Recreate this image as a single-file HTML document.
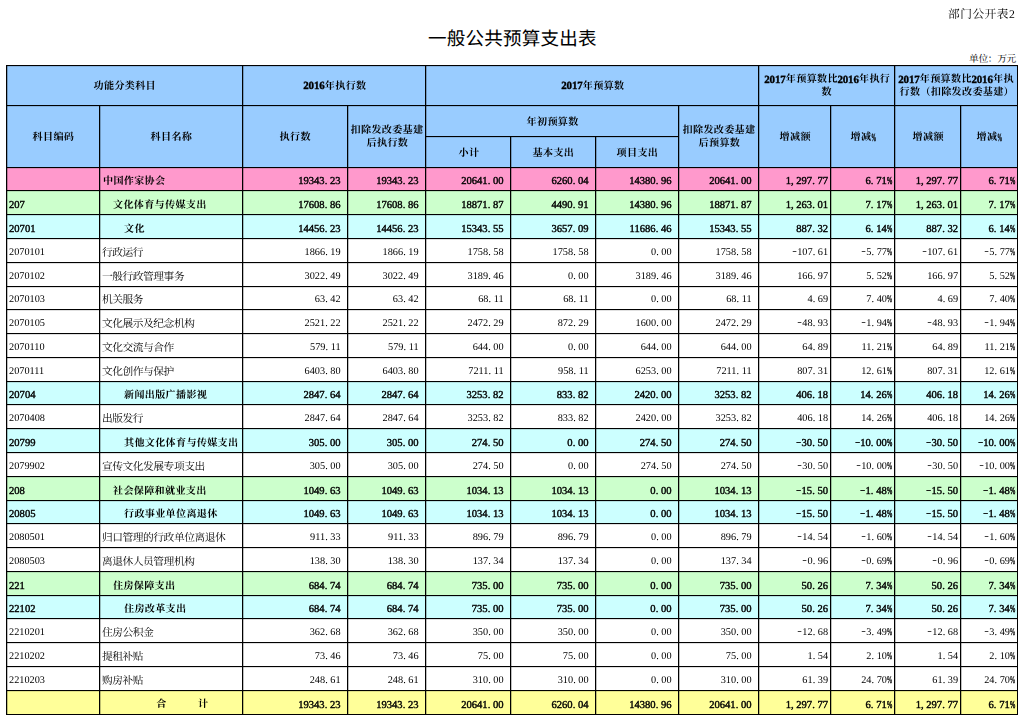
<!DOCTYPE html>
<html lang="zh-CN"><head><meta charset="utf-8"><title>一般公共预算支出表</title>
<style>
html,body{margin:0;padding:0;background:#fff}
body{text-rendering:geometricPrecision;width:1024px;height:721px;position:relative;overflow:hidden;font-family:"Liberation Serif","Noto Serif CJK SC",serif;color:#000}
svg text{font-family:"Liberation Serif","Noto Serif CJK SC",serif;font-size:1000px}
svg.fb text{font-size:1020px;stroke:#000;stroke-width:34}
svg.fb text.cj{font-size:940px;font-weight:bold;stroke:none;stroke-width:0;letter-spacing:60px}
svg text.sans{font-family:"Liberation Sans","Noto Sans CJK SC",sans-serif}
svg.L,svg.T{display:inline-block;vertical-align:top;overflow:visible;fill:#000}
#title{position:absolute;left:0;width:1024px;top:27.7px;text-align:center;line-height:0}
#tag{will-change:transform;position:absolute;right:9px;top:8px;line-height:0}
#unit{position:absolute;right:8px;top:54px;line-height:0}
table{will-change:transform;position:absolute;left:6px;top:65px;border-collapse:separate;border-spacing:0;table-layout:fixed;width:1012px;border-left:1px solid #000;border-top:1px solid #000}
th,td{box-shadow:inset 1px 0 rgba(0,0,0,.25),inset 0 1px rgba(0,0,0,.12);box-sizing:border-box;border-right:1px solid #000;border-bottom:1px solid #000;padding:0;margin:0;overflow:hidden;white-space:nowrap}
th{background:#9cf;text-align:center;vertical-align:middle;line-height:0}
th .ln{display:block;height:13px;line-height:0}
td{font-size:10.27px;line-height:12px;vertical-align:bottom;padding-bottom:2px;text-align:right}
tr.B td{font-weight:normal;-webkit-text-stroke:.4px #000;font-size:10.60px}
td.k{text-align:left;padding-left:2px}
td.n{text-align:left;padding-left:2px;line-height:0;padding-bottom:5px}
td.c{text-align:center;line-height:0;padding-bottom:6px;padding-left:22px}
td.a{padding-right:6.5px}
td.z{padding-right:2px}
tr.pink td{background:#f9c}
tr.grn td{background:#cfc}
tr.cyan td{background:#cff}
tr.yel td{background:#ff9}
tr.w td{background:#fff;padding-bottom:3px}
tr.w td.n{padding-bottom:6px}
i{font-style:normal;display:inline-block;width:.5em;text-align:left}
i.m{text-align:center;transform:scaleX(1.35) translateY(-.6px)}
i.p u{text-decoration:none;display:inline-block;transform:scaleX(.6);transform-origin:0 50%;-webkit-text-stroke:.5px #000}
tr.w i.p u{transform:scaleX(.6);-webkit-text-stroke:.3px #000}
</style></head>
<body>
<div id="tag"><svg class="T fr" width="67.10" height="12.20" viewBox="0 -823 5500 1000" preserveAspectRatio="none" role="img" aria-label="部门公开表2"><title>部门公开表2</title><text x="0" y="0">部门公开表</text><text x="5000" y="0" textLength="500" lengthAdjust="spacing">2</text></svg></div>
<div id="title"><svg class="T fr" width="168.75" height="18.75" viewBox="0 -880 9000 1000" preserveAspectRatio="none" role="img" aria-label="一般公共预算支出表"><title>一般公共预算支出表</title><text class="sans" x="0" y="0">一般公共预算支出表</text></svg></div>
<div id="unit"><svg class="T fr" width="47.00" height="9.40" viewBox="0 -891 5000 1000" preserveAspectRatio="none" role="img" aria-label="单位：万元"><title>单位：万元</title><text x="0" y="0">单位：万元</text></svg></div>
<table><colgroup><col style="width:93px"><col style="width:143px"><col style="width:105px"><col style="width:78px"><col style="width:85px"><col style="width:85px"><col style="width:83px"><col style="width:80px"><col style="width:72px"><col style="width:64px"><col style="width:66px"><col style="width:57px"></colgroup>
<thead>
<tr style="height:40px"><th colspan="2"><svg class="L fb" width="62.40" height="10.40" viewBox="-29 -880 6000 1000" preserveAspectRatio="none" role="img" aria-label="功能分类科目"><title>功能分类科目</title><text class="cj" x="30" y="-23">功能分类科目</text></svg></th><th colspan="2"><svg class="L fb" width="62.82" height="10.40" viewBox="-29 -880 6040 1000" preserveAspectRatio="none" role="img" aria-label="2016年执行数"><title>2016年执行数</title><text x="0" y="0" textLength="2040" lengthAdjust="spacing">2016</text><text class="cj" x="2070" y="-23">年执行数</text></svg></th><th colspan="4"><svg class="L fb" width="62.82" height="10.40" viewBox="-29 -880 6040 1000" preserveAspectRatio="none" role="img" aria-label="2017年预算数"><title>2017年预算数</title><text x="0" y="0" textLength="2040" lengthAdjust="spacing">2017</text><text class="cj" x="2070" y="-23">年预算数</text></svg></th><th colspan="2"><span class="ln"><svg class="L fb" width="125.63" height="10.40" viewBox="-29 -928 12080 1000" preserveAspectRatio="none" role="img" aria-label="2017年预算数比2016年执行"><title>2017年预算数比2016年执行</title><text x="0" y="0" textLength="2040" lengthAdjust="spacing">2017</text><text class="cj" x="2070" y="-23">年预算数比</text><text x="7040" y="0" textLength="2040" lengthAdjust="spacing">2016</text><text class="cj" x="9110" y="-23">年执行</text></svg></span><span class="ln"><svg class="L fb" width="10.40" height="10.40" viewBox="-29 -928 1000 1000" preserveAspectRatio="none" role="img" aria-label="数"><title>数</title><text class="cj" x="30" y="-23">数</text></svg></span></th><th colspan="2"><span class="ln"><svg class="L fb" width="115.23" height="10.40" viewBox="-29 -928 11080 1000" preserveAspectRatio="none" role="img" aria-label="2017年预算数比2016年执"><title>2017年预算数比2016年执</title><text x="0" y="0" textLength="2040" lengthAdjust="spacing">2017</text><text class="cj" x="2070" y="-23">年预算数比</text><text x="7040" y="0" textLength="2040" lengthAdjust="spacing">2016</text><text class="cj" x="9110" y="-23">年执</text></svg></span><span class="ln"><svg class="L fb" width="114.40" height="10.40" viewBox="-29 -928 11000 1000" preserveAspectRatio="none" role="img" aria-label="行数（扣除发改委基建）"><title>行数（扣除发改委基建）</title><text class="cj" x="30" y="-23">行数（扣除发改委基建）</text></svg></span></th></tr>
<tr style="height:31px"><th rowspan="2"><svg class="L fb" width="41.60" height="10.40" viewBox="-29 -928 4000 1000" preserveAspectRatio="none" role="img" aria-label="科目编码"><title>科目编码</title><text class="cj" x="30" y="-23">科目编码</text></svg></th><th rowspan="2"><svg class="L fb" width="41.60" height="10.40" viewBox="-29 -928 4000 1000" preserveAspectRatio="none" role="img" aria-label="科目名称"><title>科目名称</title><text class="cj" x="30" y="-23">科目名称</text></svg></th><th rowspan="2"><svg class="L fb" width="31.20" height="10.40" viewBox="-29 -928 3000 1000" preserveAspectRatio="none" role="img" aria-label="执行数"><title>执行数</title><text class="cj" x="30" y="-23">执行数</text></svg></th><th rowspan="2"><span class="ln"><svg class="L fb" width="72.80" height="10.40" viewBox="-29 -928 7000 1000" preserveAspectRatio="none" role="img" aria-label="扣除发改委基建"><title>扣除发改委基建</title><text class="cj" x="30" y="-23">扣除发改委基建</text></svg></span><span class="ln"><svg class="L fb" width="41.60" height="10.40" viewBox="-29 -928 4000 1000" preserveAspectRatio="none" role="img" aria-label="后执行数"><title>后执行数</title><text class="cj" x="30" y="-23">后执行数</text></svg></span></th><th colspan="3"><svg class="L fb" width="52.00" height="10.40" viewBox="-29 -928 5000 1000" preserveAspectRatio="none" role="img" aria-label="年初预算数"><title>年初预算数</title><text class="cj" x="30" y="-23">年初预算数</text></svg></th><th rowspan="2"><span class="ln"><svg class="L fb" width="72.80" height="10.40" viewBox="-29 -928 7000 1000" preserveAspectRatio="none" role="img" aria-label="扣除发改委基建"><title>扣除发改委基建</title><text class="cj" x="30" y="-23">扣除发改委基建</text></svg></span><span class="ln"><svg class="L fb" width="41.60" height="10.40" viewBox="-29 -928 4000 1000" preserveAspectRatio="none" role="img" aria-label="后预算数"><title>后预算数</title><text class="cj" x="30" y="-23">后预算数</text></svg></span></th><th rowspan="2"><svg class="L fb" width="31.20" height="10.40" viewBox="-29 -928 3000 1000" preserveAspectRatio="none" role="img" aria-label="增减额"><title>增减额</title><text class="cj" x="30" y="-23">增减额</text></svg></th><th rowspan="2"><svg class="L fb" width="26.00" height="10.40" viewBox="-29 -928 2500 1000" preserveAspectRatio="none" role="img" aria-label="增减%"><title>增减%</title><text class="cj" x="30" y="-23">增减</text><text x="2020" y="0" textLength="460" lengthAdjust="spacingAndGlyphs">%</text></svg></th><th rowspan="2"><svg class="L fb" width="31.20" height="10.40" viewBox="-29 -928 3000 1000" preserveAspectRatio="none" role="img" aria-label="增减额"><title>增减额</title><text class="cj" x="30" y="-23">增减额</text></svg></th><th rowspan="2"><svg class="L fb" width="26.00" height="10.40" viewBox="-29 -928 2500 1000" preserveAspectRatio="none" role="img" aria-label="增减%"><title>增减%</title><text class="cj" x="30" y="-23">增减</text><text x="2020" y="0" textLength="460" lengthAdjust="spacingAndGlyphs">%</text></svg></th></tr>
<tr style="height:31px"><th><svg class="L fb" width="20.80" height="10.40" viewBox="-29 -928 2000 1000" preserveAspectRatio="none" role="img" aria-label="小计"><title>小计</title><text class="cj" x="30" y="-23">小计</text></svg></th><th><svg class="L fb" width="41.60" height="10.40" viewBox="-29 -928 4000 1000" preserveAspectRatio="none" role="img" aria-label="基本支出"><title>基本支出</title><text class="cj" x="30" y="-23">基本支出</text></svg></th><th><svg class="L fb" width="41.60" height="10.40" viewBox="-29 -928 4000 1000" preserveAspectRatio="none" role="img" aria-label="项目支出"><title>项目支出</title><text class="cj" x="30" y="-23">项目支出</text></svg></th></tr>
</thead>
<tbody>
<tr class="pink B" style="height:23px"><td class="k"></td><td class="n"><svg class="L fb" width="62.40" height="10.40" viewBox="-67 -880 6000 1000" preserveAspectRatio="none" role="img" aria-label="中国作家协会"><title>中国作家协会</title><text class="cj" x="30" y="-23">中国作家协会</text></svg></td><td class="a">19343<i>.</i>23</td><td class="a">19343<i>.</i>23</td><td class="a">20641<i>.</i>00</td><td class="a">6260<i>.</i>04</td><td class="a">14380<i>.</i>96</td><td class="a">20641<i>.</i>00</td><td class="z">1<i>,</i>297<i>.</i>77</td><td class="z">6<i>.</i>71<i class="p"><u>%</u></i></td><td class="z">1<i>,</i>297<i>.</i>77</td><td class="z">6<i>.</i>71<i class="p"><u>%</u></i></td></tr>
<tr class="grn B" style="height:24px"><td class="k">207</td><td class="n" style="padding-left:12.4px"><svg class="L fb" width="93.60" height="10.40" viewBox="-67 -880 9000 1000" preserveAspectRatio="none" role="img" aria-label="文化体育与传媒支出"><title>文化体育与传媒支出</title><text class="cj" x="30" y="-23">文化体育与传媒支出</text></svg></td><td class="a">17608<i>.</i>86</td><td class="a">17608<i>.</i>86</td><td class="a">18871<i>.</i>87</td><td class="a">4490<i>.</i>91</td><td class="a">14380<i>.</i>96</td><td class="a">18871<i>.</i>87</td><td class="z">1<i>,</i>263<i>.</i>01</td><td class="z">7<i>.</i>17<i class="p"><u>%</u></i></td><td class="z">1<i>,</i>263<i>.</i>01</td><td class="z">7<i>.</i>17<i class="p"><u>%</u></i></td></tr>
<tr class="cyan B" style="height:24px"><td class="k">20701</td><td class="n" style="padding-left:22.8px"><svg class="L fb" width="20.80" height="10.40" viewBox="-67 -880 2000 1000" preserveAspectRatio="none" role="img" aria-label="文化"><title>文化</title><text class="cj" x="30" y="-23">文化</text></svg></td><td class="a">14456<i>.</i>23</td><td class="a">14456<i>.</i>23</td><td class="a">15343<i>.</i>55</td><td class="a">3657<i>.</i>09</td><td class="a">11686<i>.</i>46</td><td class="a">15343<i>.</i>55</td><td class="z">887<i>.</i>32</td><td class="z">6<i>.</i>14<i class="p"><u>%</u></i></td><td class="z">887<i>.</i>32</td><td class="z">6<i>.</i>14<i class="p"><u>%</u></i></td></tr>
<tr class="w" style="height:24px"><td class="k">2070101</td><td class="n"><svg class="L fr" width="41.08" height="10.27" viewBox="0 -948 4000 1000" preserveAspectRatio="none" role="img" aria-label="行政运行"><title>行政运行</title><text x="0" y="0">行政运行</text></svg></td><td class="a">1866<i>.</i>19</td><td class="a">1866<i>.</i>19</td><td class="a">1758<i>.</i>58</td><td class="a">1758<i>.</i>58</td><td class="a">0<i>.</i>00</td><td class="a">1758<i>.</i>58</td><td class="z"><i class="m">-</i>107<i>.</i>61</td><td class="z"><i class="m">-</i>5<i>.</i>77<i class="p"><u>%</u></i></td><td class="z"><i class="m">-</i>107<i>.</i>61</td><td class="z"><i class="m">-</i>5<i>.</i>77<i class="p"><u>%</u></i></td></tr>
<tr class="w" style="height:24px"><td class="k">2070102</td><td class="n"><svg class="L fr" width="82.16" height="10.27" viewBox="0 -948 8000 1000" preserveAspectRatio="none" role="img" aria-label="一般行政管理事务"><title>一般行政管理事务</title><text x="0" y="0">一般行政管理事务</text></svg></td><td class="a">3022<i>.</i>49</td><td class="a">3022<i>.</i>49</td><td class="a">3189<i>.</i>46</td><td class="a">0<i>.</i>00</td><td class="a">3189<i>.</i>46</td><td class="a">3189<i>.</i>46</td><td class="z">166<i>.</i>97</td><td class="z">5<i>.</i>52<i class="p"><u>%</u></i></td><td class="z">166<i>.</i>97</td><td class="z">5<i>.</i>52<i class="p"><u>%</u></i></td></tr>
<tr class="w" style="height:23px"><td class="k">2070103</td><td class="n"><svg class="L fr" width="41.08" height="10.27" viewBox="0 -948 4000 1000" preserveAspectRatio="none" role="img" aria-label="机关服务"><title>机关服务</title><text x="0" y="0">机关服务</text></svg></td><td class="a">63<i>.</i>42</td><td class="a">63<i>.</i>42</td><td class="a">68<i>.</i>11</td><td class="a">68<i>.</i>11</td><td class="a">0<i>.</i>00</td><td class="a">68<i>.</i>11</td><td class="z">4<i>.</i>69</td><td class="z">7<i>.</i>40<i class="p"><u>%</u></i></td><td class="z">4<i>.</i>69</td><td class="z">7<i>.</i>40<i class="p"><u>%</u></i></td></tr>
<tr class="w" style="height:24px"><td class="k">2070105</td><td class="n"><svg class="L fr" width="92.43" height="10.27" viewBox="0 -948 9000 1000" preserveAspectRatio="none" role="img" aria-label="文化展示及纪念机构"><title>文化展示及纪念机构</title><text x="0" y="0">文化展示及纪念机构</text></svg></td><td class="a">2521<i>.</i>22</td><td class="a">2521<i>.</i>22</td><td class="a">2472<i>.</i>29</td><td class="a">872<i>.</i>29</td><td class="a">1600<i>.</i>00</td><td class="a">2472<i>.</i>29</td><td class="z"><i class="m">-</i>48<i>.</i>93</td><td class="z"><i class="m">-</i>1<i>.</i>94<i class="p"><u>%</u></i></td><td class="z"><i class="m">-</i>48<i>.</i>93</td><td class="z"><i class="m">-</i>1<i>.</i>94<i class="p"><u>%</u></i></td></tr>
<tr class="w" style="height:24px"><td class="k">2070110</td><td class="n"><svg class="L fr" width="71.89" height="10.27" viewBox="0 -948 7000 1000" preserveAspectRatio="none" role="img" aria-label="文化交流与合作"><title>文化交流与合作</title><text x="0" y="0">文化交流与合作</text></svg></td><td class="a">579<i>.</i>11</td><td class="a">579<i>.</i>11</td><td class="a">644<i>.</i>00</td><td class="a">0<i>.</i>00</td><td class="a">644<i>.</i>00</td><td class="a">644<i>.</i>00</td><td class="z">64<i>.</i>89</td><td class="z">11<i>.</i>21<i class="p"><u>%</u></i></td><td class="z">64<i>.</i>89</td><td class="z">11<i>.</i>21<i class="p"><u>%</u></i></td></tr>
<tr class="w" style="height:24px"><td class="k">2070111</td><td class="n"><svg class="L fr" width="71.89" height="10.27" viewBox="0 -948 7000 1000" preserveAspectRatio="none" role="img" aria-label="文化创作与保护"><title>文化创作与保护</title><text x="0" y="0">文化创作与保护</text></svg></td><td class="a">6403<i>.</i>80</td><td class="a">6403<i>.</i>80</td><td class="a">7211<i>.</i>11</td><td class="a">958<i>.</i>11</td><td class="a">6253<i>.</i>00</td><td class="a">7211<i>.</i>11</td><td class="z">807<i>.</i>31</td><td class="z">12<i>.</i>61<i class="p"><u>%</u></i></td><td class="z">807<i>.</i>31</td><td class="z">12<i>.</i>61<i class="p"><u>%</u></i></td></tr>
<tr class="cyan B" style="height:23px"><td class="k">20704</td><td class="n" style="padding-left:22.8px"><svg class="L fb" width="83.20" height="10.40" viewBox="-67 -880 8000 1000" preserveAspectRatio="none" role="img" aria-label="新闻出版广播影视"><title>新闻出版广播影视</title><text class="cj" x="30" y="-23">新闻出版广播影视</text></svg></td><td class="a">2847<i>.</i>64</td><td class="a">2847<i>.</i>64</td><td class="a">3253<i>.</i>82</td><td class="a">833<i>.</i>82</td><td class="a">2420<i>.</i>00</td><td class="a">3253<i>.</i>82</td><td class="z">406<i>.</i>18</td><td class="z">14<i>.</i>26<i class="p"><u>%</u></i></td><td class="z">406<i>.</i>18</td><td class="z">14<i>.</i>26<i class="p"><u>%</u></i></td></tr>
<tr class="w" style="height:24px"><td class="k">2070408</td><td class="n"><svg class="L fr" width="41.08" height="10.27" viewBox="0 -948 4000 1000" preserveAspectRatio="none" role="img" aria-label="出版发行"><title>出版发行</title><text x="0" y="0">出版发行</text></svg></td><td class="a">2847<i>.</i>64</td><td class="a">2847<i>.</i>64</td><td class="a">3253<i>.</i>82</td><td class="a">833<i>.</i>82</td><td class="a">2420<i>.</i>00</td><td class="a">3253<i>.</i>82</td><td class="z">406<i>.</i>18</td><td class="z">14<i>.</i>26<i class="p"><u>%</u></i></td><td class="z">406<i>.</i>18</td><td class="z">14<i>.</i>26<i class="p"><u>%</u></i></td></tr>
<tr class="cyan B" style="height:24px"><td class="k">20799</td><td class="n" style="padding-left:22.8px"><svg class="L fb" width="114.40" height="10.40" viewBox="-67 -880 11000 1000" preserveAspectRatio="none" role="img" aria-label="其他文化体育与传媒支出"><title>其他文化体育与传媒支出</title><text class="cj" x="30" y="-23">其他文化体育与传媒支出</text></svg></td><td class="a">305<i>.</i>00</td><td class="a">305<i>.</i>00</td><td class="a">274<i>.</i>50</td><td class="a">0<i>.</i>00</td><td class="a">274<i>.</i>50</td><td class="a">274<i>.</i>50</td><td class="z"><i class="m">-</i>30<i>.</i>50</td><td class="z"><i class="m">-</i>10<i>.</i>00<i class="p"><u>%</u></i></td><td class="z"><i class="m">-</i>30<i>.</i>50</td><td class="z"><i class="m">-</i>10<i>.</i>00<i class="p"><u>%</u></i></td></tr>
<tr class="w" style="height:24px"><td class="k">2079902</td><td class="n"><svg class="L fr" width="102.70" height="10.27" viewBox="0 -948 10000 1000" preserveAspectRatio="none" role="img" aria-label="宣传文化发展专项支出"><title>宣传文化发展专项支出</title><text x="0" y="0">宣传文化发展专项支出</text></svg></td><td class="a">305<i>.</i>00</td><td class="a">305<i>.</i>00</td><td class="a">274<i>.</i>50</td><td class="a">0<i>.</i>00</td><td class="a">274<i>.</i>50</td><td class="a">274<i>.</i>50</td><td class="z"><i class="m">-</i>30<i>.</i>50</td><td class="z"><i class="m">-</i>10<i>.</i>00<i class="p"><u>%</u></i></td><td class="z"><i class="m">-</i>30<i>.</i>50</td><td class="z"><i class="m">-</i>10<i>.</i>00<i class="p"><u>%</u></i></td></tr>
<tr class="grn B" style="height:24px"><td class="k">208</td><td class="n" style="padding-left:12.4px"><svg class="L fb" width="93.60" height="10.40" viewBox="-67 -880 9000 1000" preserveAspectRatio="none" role="img" aria-label="社会保障和就业支出"><title>社会保障和就业支出</title><text class="cj" x="30" y="-23">社会保障和就业支出</text></svg></td><td class="a">1049<i>.</i>63</td><td class="a">1049<i>.</i>63</td><td class="a">1034<i>.</i>13</td><td class="a">1034<i>.</i>13</td><td class="a">0<i>.</i>00</td><td class="a">1034<i>.</i>13</td><td class="z"><i class="m">-</i>15<i>.</i>50</td><td class="z"><i class="m">-</i>1<i>.</i>48<i class="p"><u>%</u></i></td><td class="z"><i class="m">-</i>15<i>.</i>50</td><td class="z"><i class="m">-</i>1<i>.</i>48<i class="p"><u>%</u></i></td></tr>
<tr class="cyan B" style="height:23px"><td class="k">20805</td><td class="n" style="padding-left:22.8px"><svg class="L fb" width="93.60" height="10.40" viewBox="-67 -880 9000 1000" preserveAspectRatio="none" role="img" aria-label="行政事业单位离退休"><title>行政事业单位离退休</title><text class="cj" x="30" y="-23">行政事业单位离退休</text></svg></td><td class="a">1049<i>.</i>63</td><td class="a">1049<i>.</i>63</td><td class="a">1034<i>.</i>13</td><td class="a">1034<i>.</i>13</td><td class="a">0<i>.</i>00</td><td class="a">1034<i>.</i>13</td><td class="z"><i class="m">-</i>15<i>.</i>50</td><td class="z"><i class="m">-</i>1<i>.</i>48<i class="p"><u>%</u></i></td><td class="z"><i class="m">-</i>15<i>.</i>50</td><td class="z"><i class="m">-</i>1<i>.</i>48<i class="p"><u>%</u></i></td></tr>
<tr class="w" style="height:24px"><td class="k">2080501</td><td class="n"><svg class="L fr" width="123.24" height="10.27" viewBox="0 -948 12000 1000" preserveAspectRatio="none" role="img" aria-label="归口管理的行政单位离退休"><title>归口管理的行政单位离退休</title><text x="0" y="0">归口管理的行政单位离退休</text></svg></td><td class="a">911<i>.</i>33</td><td class="a">911<i>.</i>33</td><td class="a">896<i>.</i>79</td><td class="a">896<i>.</i>79</td><td class="a">0<i>.</i>00</td><td class="a">896<i>.</i>79</td><td class="z"><i class="m">-</i>14<i>.</i>54</td><td class="z"><i class="m">-</i>1<i>.</i>60<i class="p"><u>%</u></i></td><td class="z"><i class="m">-</i>14<i>.</i>54</td><td class="z"><i class="m">-</i>1<i>.</i>60<i class="p"><u>%</u></i></td></tr>
<tr class="w" style="height:24px"><td class="k">2080503</td><td class="n"><svg class="L fr" width="92.43" height="10.27" viewBox="0 -948 9000 1000" preserveAspectRatio="none" role="img" aria-label="离退休人员管理机构"><title>离退休人员管理机构</title><text x="0" y="0">离退休人员管理机构</text></svg></td><td class="a">138<i>.</i>30</td><td class="a">138<i>.</i>30</td><td class="a">137<i>.</i>34</td><td class="a">137<i>.</i>34</td><td class="a">0<i>.</i>00</td><td class="a">137<i>.</i>34</td><td class="z"><i class="m">-</i>0<i>.</i>96</td><td class="z"><i class="m">-</i>0<i>.</i>69<i class="p"><u>%</u></i></td><td class="z"><i class="m">-</i>0<i>.</i>96</td><td class="z"><i class="m">-</i>0<i>.</i>69<i class="p"><u>%</u></i></td></tr>
<tr class="grn B" style="height:24px"><td class="k">221</td><td class="n" style="padding-left:12.4px"><svg class="L fb" width="62.40" height="10.40" viewBox="-67 -880 6000 1000" preserveAspectRatio="none" role="img" aria-label="住房保障支出"><title>住房保障支出</title><text class="cj" x="30" y="-23">住房保障支出</text></svg></td><td class="a">684<i>.</i>74</td><td class="a">684<i>.</i>74</td><td class="a">735<i>.</i>00</td><td class="a">735<i>.</i>00</td><td class="a">0<i>.</i>00</td><td class="a">735<i>.</i>00</td><td class="z">50<i>.</i>26</td><td class="z">7<i>.</i>34<i class="p"><u>%</u></i></td><td class="z">50<i>.</i>26</td><td class="z">7<i>.</i>34<i class="p"><u>%</u></i></td></tr>
<tr class="cyan B" style="height:23px"><td class="k">22102</td><td class="n" style="padding-left:22.8px"><svg class="L fb" width="62.40" height="10.40" viewBox="-67 -880 6000 1000" preserveAspectRatio="none" role="img" aria-label="住房改革支出"><title>住房改革支出</title><text class="cj" x="30" y="-23">住房改革支出</text></svg></td><td class="a">684<i>.</i>74</td><td class="a">684<i>.</i>74</td><td class="a">735<i>.</i>00</td><td class="a">735<i>.</i>00</td><td class="a">0<i>.</i>00</td><td class="a">735<i>.</i>00</td><td class="z">50<i>.</i>26</td><td class="z">7<i>.</i>34<i class="p"><u>%</u></i></td><td class="z">50<i>.</i>26</td><td class="z">7<i>.</i>34<i class="p"><u>%</u></i></td></tr>
<tr class="w" style="height:24px"><td class="k">2210201</td><td class="n"><svg class="L fr" width="51.35" height="10.27" viewBox="0 -948 5000 1000" preserveAspectRatio="none" role="img" aria-label="住房公积金"><title>住房公积金</title><text x="0" y="0">住房公积金</text></svg></td><td class="a">362<i>.</i>68</td><td class="a">362<i>.</i>68</td><td class="a">350<i>.</i>00</td><td class="a">350<i>.</i>00</td><td class="a">0<i>.</i>00</td><td class="a">350<i>.</i>00</td><td class="z"><i class="m">-</i>12<i>.</i>68</td><td class="z"><i class="m">-</i>3<i>.</i>49<i class="p"><u>%</u></i></td><td class="z"><i class="m">-</i>12<i>.</i>68</td><td class="z"><i class="m">-</i>3<i>.</i>49<i class="p"><u>%</u></i></td></tr>
<tr class="w" style="height:24px"><td class="k">2210202</td><td class="n"><svg class="L fr" width="41.08" height="10.27" viewBox="0 -948 4000 1000" preserveAspectRatio="none" role="img" aria-label="提租补贴"><title>提租补贴</title><text x="0" y="0">提租补贴</text></svg></td><td class="a">73<i>.</i>46</td><td class="a">73<i>.</i>46</td><td class="a">75<i>.</i>00</td><td class="a">75<i>.</i>00</td><td class="a">0<i>.</i>00</td><td class="a">75<i>.</i>00</td><td class="z">1<i>.</i>54</td><td class="z">2<i>.</i>10<i class="p"><u>%</u></i></td><td class="z">1<i>.</i>54</td><td class="z">2<i>.</i>10<i class="p"><u>%</u></i></td></tr>
<tr class="w" style="height:24px"><td class="k">2210203</td><td class="n"><svg class="L fr" width="41.08" height="10.27" viewBox="0 -948 4000 1000" preserveAspectRatio="none" role="img" aria-label="购房补贴"><title>购房补贴</title><text x="0" y="0">购房补贴</text></svg></td><td class="a">248<i>.</i>61</td><td class="a">248<i>.</i>61</td><td class="a">310<i>.</i>00</td><td class="a">310<i>.</i>00</td><td class="a">0<i>.</i>00</td><td class="a">310<i>.</i>00</td><td class="z">61<i>.</i>39</td><td class="z">24<i>.</i>70<i class="p"><u>%</u></i></td><td class="z">61<i>.</i>39</td><td class="z">24<i>.</i>70<i class="p"><u>%</u></i></td></tr>
<tr class="yel B" style="height:24px"><td class="k"></td><td class="c"><svg class="L fb" width="52.00" height="10.40" viewBox="0 -909 5000 1000" preserveAspectRatio="none" role="img" aria-label="合　　　计"><title>合　　　计</title><text class="cj" x="30" y="-23">合</text><text class="cj" x="4030" y="-23">计</text></svg></td><td class="a">19343<i>.</i>23</td><td class="a">19343<i>.</i>23</td><td class="a">20641<i>.</i>00</td><td class="a">6260<i>.</i>04</td><td class="a">14380<i>.</i>96</td><td class="a">20641<i>.</i>00</td><td class="z">1<i>,</i>297<i>.</i>77</td><td class="z">6<i>.</i>71<i class="p"><u>%</u></i></td><td class="z">1<i>,</i>297<i>.</i>77</td><td class="z">6<i>.</i>71<i class="p"><u>%</u></i></td></tr>
</tbody></table>
</body></html>
